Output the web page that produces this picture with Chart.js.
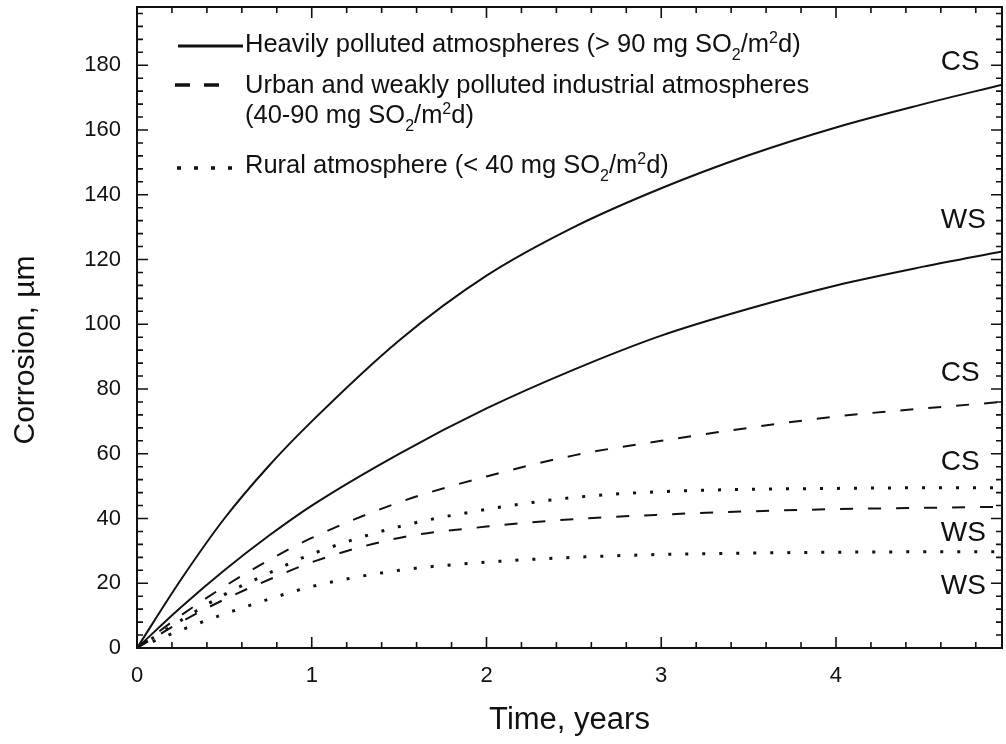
<!DOCTYPE html>
<html>
<head>
<meta charset="utf-8">
<script src="https://cdn.jsdelivr.net/npm/chart.js@4.4.1/dist/chart.umd.min.js"></script>
<style>
  html, body { margin: 0; padding: 0; background: #fff; }
</style>
</head>
<body>
<canvas id="chart" width="1006" height="744"></canvas>
<script>
// values (time in years, corrosion in µm)
const years = [0, 0.25, 0.5, 0.75, 1, 1.5, 2, 2.5, 3, 3.5, 4, 4.5, 4.95];
const heavyCS = [0, 21, 40, 56, 70, 95, 115, 130, 142, 152.2, 160.8, 168, 174];
const heavyWS = [0, 12.5, 24, 34.5, 44, 60, 74, 86, 96.5, 104.8, 112, 117.8, 122.5];
const urbanCS = [0, 10, 19, 27, 34, 45, 53, 59.5, 64, 68, 71.5, 74, 76];
const urbanWS = [0, 8, 15, 21, 26.5, 34, 37.5, 39.8, 41.2, 42.2, 42.9, 43.3, 43.6];
const ruralCS = [0, 8.5, 16.5, 23, 29, 37.5, 42.8, 46.5, 48.3, 49, 49.3, 49.5, 49.5];
const ruralWS = [0, 5.5, 10.5, 15, 19, 24, 26.5, 28, 28.9, 29.3, 29.6, 29.7, 29.7];

const xTicks = [0, 1, 2, 3, 4];
const xTickLabels = ['0', '1', '2', '3', '4'];
const yTicks = [0, 20, 40, 60, 80, 100, 120, 140, 160, 180];
const yTickLabels = ['0', '20', '40', '60', '80', '100', '120', '140', '160', '180'];

const curveLabels = ['CS', 'WS', 'CS', 'CS', 'WS', 'WS'];
const curveLabelY = [181, 132, 85, 57.5, 35.5, 19];
const curveLabelX = 4.6;

const legendLines = [
  [['Heavily polluted atmospheres (> 90 mg SO'], ['2', 'sub'], ['/m'], ['2', 'sup'], ['d)']],
  [['Urban and weakly polluted industrial atmospheres']],
  [['(40-90 mg SO'], ['2', 'sub'], ['/m'], ['2', 'sup'], ['d)']],
  [['Rural atmosphere (< 40 mg SO'], ['2', 'sub'], ['/m'], ['2', 'sup'], ['d)']],
];

const FONT = '"Liberation Sans", Arial, sans-serif';
const INK = '#111';

const toPoints = (ys) => ys.map((y, i) => ({ x: years[i], y }));

function line(label, ys, dash, width) {
  return {
    label,
    data: toPoints(ys),
    borderColor: INK,
    borderWidth: width,
    borderDash: dash,
    borderCapStyle: 'butt',
    pointRadius: 0,
    fill: false,
    cubicInterpolationMode: 'monotone',
  };
}

function drawRich(ctx, parts, x, y) {
  for (const [text, kind] of parts) {
    const size = kind ? 16 : 25.5;
    ctx.font = `${size}px ${FONT}`;
    const dy = kind === 'sub' ? 8 : kind === 'sup' ? -9 : 0;
    ctx.fillText(text, x, y + dy);
    x += ctx.measureText(text).width;
  }
}

const decorations = {
  id: 'decorations',
  afterDatasetsDraw(chart) {
    const { ctx, chartArea: a, scales: { x, y } } = chart;
    ctx.save();
    ctx.strokeStyle = INK;

    // frame
    ctx.lineWidth = 2;
    ctx.strokeRect(a.left, a.top, a.right - a.left, a.bottom - a.top);

    // inward ticks on all four sides
    ctx.lineWidth = 1.6;
    ctx.beginPath();
    for (let i = 0; i * 0.2 <= x.max + 1e-9; i++) {
      const px = x.getPixelForValue(i * 0.2);
      const len = i % 5 === 0 ? 11 : 6;
      ctx.moveTo(px, a.bottom); ctx.lineTo(px, a.bottom - len);
      ctx.moveTo(px, a.top); ctx.lineTo(px, a.top + len);
    }
    for (let i = 0; i * 4 <= y.max + 1e-9; i++) {
      const py = y.getPixelForValue(i * 4);
      const len = i % 5 === 0 ? 11 : 6;
      ctx.moveTo(a.left, py); ctx.lineTo(a.left + len, py);
      ctx.moveTo(a.right, py); ctx.lineTo(a.right - len, py);
    }
    ctx.stroke();

    // curve labels
    ctx.fillStyle = INK;
    ctx.font = `28px ${FONT}`;
    ctx.textAlign = 'left';
    ctx.textBaseline = 'middle';
    curveLabels.forEach((t, i) => {
      ctx.fillText(t, x.getPixelForValue(curveLabelX), y.getPixelForValue(curveLabelY[i]));
    });

    // y axis title
    ctx.save();
    ctx.translate(26, 350);
    ctx.rotate(-Math.PI / 2);
    ctx.textAlign = 'center';
    ctx.font = `30px ${FONT}`;
    ctx.fillText('Corrosion, µm', 0, 0);
    ctx.restore();

    // legend
    ctx.lineWidth = 3;
    ctx.beginPath();
    ctx.moveTo(178, 46); ctx.lineTo(243, 46);
    ctx.stroke();
    ctx.setLineDash([15, 14]);
    ctx.lineWidth = 3.5;
    ctx.beginPath();
    ctx.moveTo(175, 85); ctx.lineTo(222, 85);
    ctx.stroke();
    ctx.setLineDash([4, 13]);
    ctx.beginPath();
    ctx.moveTo(177, 168); ctx.lineTo(240, 168);
    ctx.stroke();
    ctx.setLineDash([]);

    ctx.textBaseline = 'alphabetic';
    const baselines = [52, 93, 123, 173];
    legendLines.forEach((parts, i) => drawRich(ctx, parts, 245, baselines[i]));
    ctx.restore();
  },
};

new Chart(document.getElementById('chart'), {
  type: 'line',
  data: {
    datasets: [
      line('Heavily polluted, CS', heavyCS, [], 2),
      line('Heavily polluted, WS', heavyWS, [], 2),
      line('Urban, CS', urbanCS, [13, 15], 2),
      line('Urban, WS', urbanWS, [13, 15], 2),
      line('Rural, CS', ruralCS, [3, 14], 3),
      line('Rural, WS', ruralWS, [3, 14], 3),
    ],
  },
  options: {
    responsive: false,
    animation: false,
    devicePixelRatio: 1,
    layout: { padding: { top: 7, right: 4, left: 0, bottom: 0 } },
    plugins: {
      legend: { display: false },
      tooltip: { enabled: false },
    },
    scales: {
      x: {
        type: 'linear',
        min: 0,
        max: 4.95,
        afterBuildTicks: (s) => { s.ticks = xTicks.map((v) => ({ value: v })); },
        afterFit: (s) => {
          s.height = 96;
          s.paddingLeft = 0;
          s.paddingRight = 0;
        },
        grid: { display: false, drawTicks: false },
        border: { display: false },
        ticks: {
          includeBounds: false,
          padding: 15,
          color: INK,
          font: { family: FONT, size: 22 },
          callback: (v, i) => xTickLabels[i],
        },
        title: {
          display: true,
          text: 'Time, years',
          color: INK,
          font: { family: FONT, size: 31 },
          padding: { top: 0, bottom: 5 },
        },
      },
      y: {
        min: 0,
        max: 198,
        afterBuildTicks: (s) => { s.ticks = yTicks.map((v) => ({ value: v })); },
        afterFit: (s) => {
          s.width = 137;
          s.paddingTop = 0;
          s.paddingBottom = 0;
        },
        grid: { display: false, drawTicks: false },
        border: { display: false },
        ticks: {
          includeBounds: false,
          padding: 16,
          color: INK,
          font: { family: FONT, size: 22 },
          callback: (v, i) => yTickLabels[i],
        },
      },
    },
  },
  plugins: [decorations],
});
</script>
</body>
</html>
